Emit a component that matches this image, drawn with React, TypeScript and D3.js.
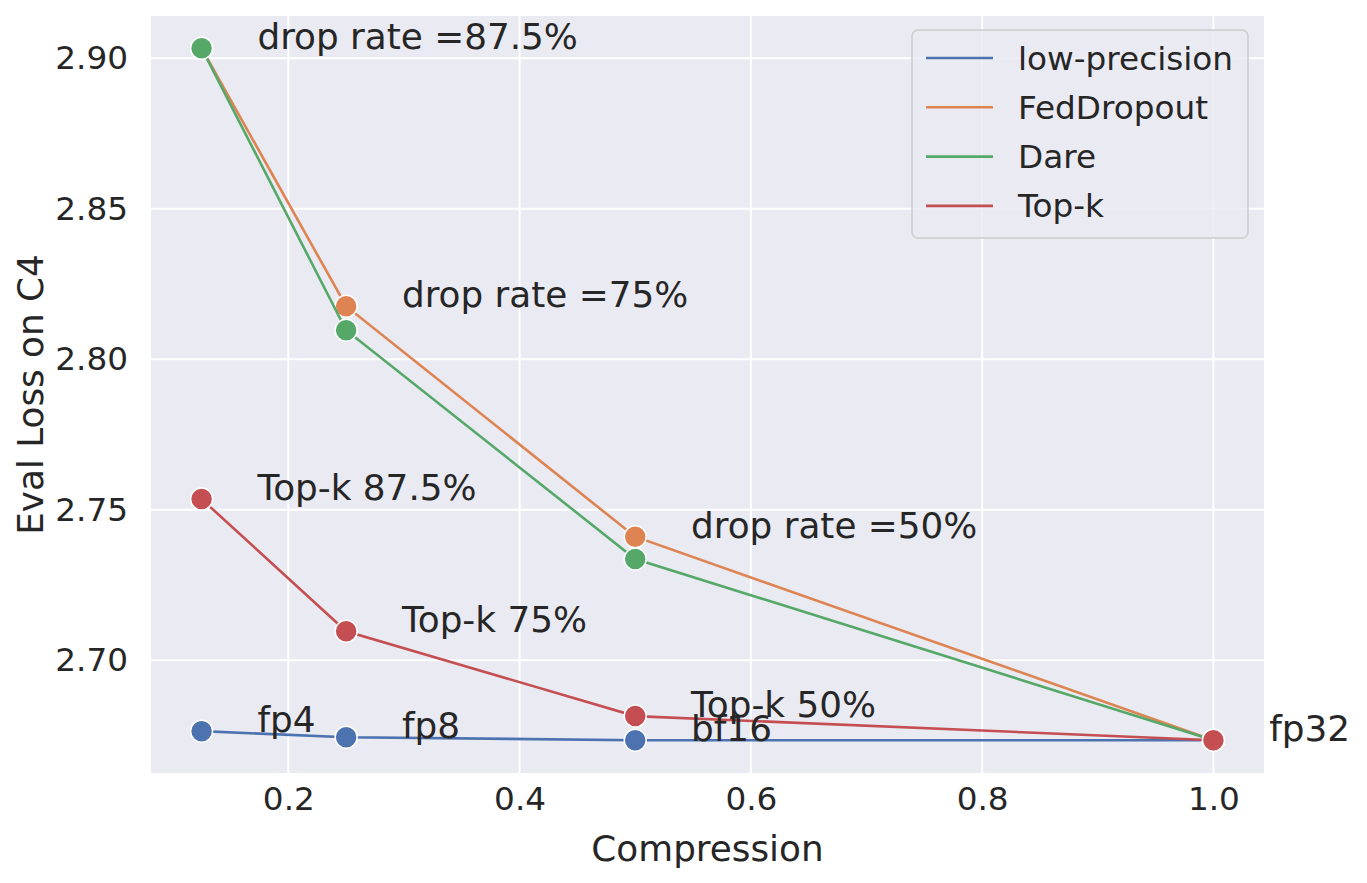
// @ts-nocheck
import * as d3 from "d3";
import { useEffect, useRef } from "react";

// x values (compression ratio)
const compression = [0.125, 0.25, 0.5, 1.0];

// eval loss per method
const lowPrecision = [2.6764, 2.6744, 2.6734, 2.6734];
const fedDropout = [2.9033, 2.8176, 2.7410, 2.6734];
const dare = [2.9033, 2.8096, 2.7336, 2.6734];
const topK = [2.7535, 2.7096, 2.6814, 2.6734];

const seriesNames = ["low-precision", "FedDropout", "Dare", "Top-k"];
const seriesColors = ["#4c72b0", "#dd8452", "#55a868", "#c44e52"];

// labels placed next to points (x offset +0.05)
const lowPrecisionLabels = ["fp4", "fp8", "bf16", "fp32"];
const dropLabels = ["drop rate =87.5%", "drop rate =75%", "drop rate =50%"];
const topKLabels = ["Top-k 87.5%", "Top-k 75%", "Top-k 50%"];

const xTicks = [0.2, 0.4, 0.6, 0.8, 1.0];
const yTicks = [2.7, 2.75, 2.8, 2.85, 2.9];

const W = 1367, H = 883;
const margin = { top: 16, right: 103, bottom: 110, left: 151 };

const App = () => {
    const ref = useRef(null);

    useEffect(() => {
        const svg = d3.select(ref.current);
        svg.selectAll("*").remove();

        const width = W - margin.left - margin.right,
            height = H - margin.top - margin.bottom;

        const xScale = d3.scaleLinear().domain([0.08125, 1.04375]).range([0, width]);
        const yScale = d3.scaleLinear().domain([2.6625, 2.914]).range([height, 0]);

        const font = "'DejaVu Sans', sans-serif";
        const textColor = "#262626";
        const bigFont = "35.8px", smallFont = "32.7px";

        const g = svg.append("g").attr("transform", "translate(" + margin.left + "," + margin.top + ")");

        // background
        g.append("rect").attr("width", width).attr("height", height).attr("fill", "#eaeaf2");

        // grid
        g.selectAll("line.hgrid").data(yTicks).enter()
            .append("line")
            .attr("x1", 0).attr("x2", width)
            .attr("y1", d => yScale(d)).attr("y2", d => yScale(d))
            .attr("stroke", "#ffffff").attr("stroke-width", 2);
        g.selectAll("line.vgrid").data(xTicks).enter()
            .append("line")
            .attr("y1", 0).attr("y2", height)
            .attr("x1", d => xScale(d)).attr("x2", d => xScale(d))
            .attr("stroke", "#ffffff").attr("stroke-width", 2);

        // axes (seaborn style: no lines, just labels)
        const yAxis = g.append("g").call(d3.axisLeft(yScale).tickValues(yTicks).tickFormat(d3.format(".2f")).tickSize(0).tickPadding(23));
        yAxis.select(".domain").remove();
        yAxis.selectAll("text").style("font-size", smallFont).style("font-family", font).attr("fill", textColor);

        const xAxis = g.append("g").attr("transform", "translate(0," + height + ")")
            .call(d3.axisBottom(xScale).tickValues(xTicks).tickFormat(d3.format(".1f")).tickSize(0).tickPadding(14));
        xAxis.select(".domain").remove();
        xAxis.selectAll("text").style("font-size", smallFont).style("font-family", font).attr("fill", textColor);

        // axis titles
        svg.append("text")
            .attr("x", margin.left + width / 2).attr("y", 861)
            .attr("text-anchor", "middle")
            .style("font-size", bigFont).style("font-family", font).attr("fill", textColor)
            .text("Compression");
        svg.append("text")
            .attr("transform", "translate(43," + (margin.top + height / 2) + ") rotate(-90)")
            .attr("text-anchor", "middle")
            .style("font-size", bigFont).style("font-family", font).attr("fill", textColor)
            .text("Eval Loss on C4");

        // lines + markers
        const allSeries = [lowPrecision, fedDropout, dare, topK];
        const lineBuilder = d3.line()
            .x((d, i) => xScale(compression[i]))
            .y(d => yScale(d));

        allSeries.forEach((values, s) => {
            g.append("path")
                .attr("d", lineBuilder(values))
                .attr("fill", "none")
                .attr("stroke", seriesColors[s])
                .attr("stroke-width", 2.6);
            g.selectAll(".dot-" + s).data(values).enter()
                .append("circle")
                .attr("cx", (d, i) => xScale(compression[i]))
                .attr("cy", d => yScale(d))
                .attr("r", 11)
                .attr("fill", seriesColors[s])
                .attr("stroke", "#ffffff")
                .attr("stroke-width", 1.5);
        });

        // annotations
        const annotate = (labels, values) => {
            g.selectAll(null).data(labels).enter()
                .append("text")
                .attr("x", (d, i) => xScale(compression[i] + 0.05) - 2)
                .attr("y", (d, i) => yScale(values[i]) + 1)
                .style("font-size", bigFont).style("font-family", font).attr("fill", textColor)
                .text(d => d);
        };
        annotate(lowPrecisionLabels, lowPrecision);
        annotate(dropLabels, fedDropout);
        annotate(topKLabels, topK);

        // legend
        const legend = svg.append("g").attr("transform", "translate(912,30)");
        legend.append("rect")
            .attr("width", 336).attr("height", 208).attr("rx", 6)
            .attr("fill", "#eaeaf2").attr("fill-opacity", 0.8)
            .attr("stroke", "#cccccc").attr("stroke-width", 1.5);
        seriesNames.forEach((name, i) => {
            const y = 28 + i * 49.3;
            legend.append("line")
                .attr("x1", 14).attr("x2", 81).attr("y1", y).attr("y2", y)
                .attr("stroke", seriesColors[i]).attr("stroke-width", 2.6);
            legend.append("text")
                .attr("x", 106).attr("y", y + 11.5)
                .style("font-size", smallFont).style("font-family", font).attr("fill", textColor)
                .text(name);
        });
    }, []);

    return <svg ref={ref} width={W} height={H} style={{ position: "absolute", left: 0, top: 0, background: "#ffffff" }} />;
};

export default App;
